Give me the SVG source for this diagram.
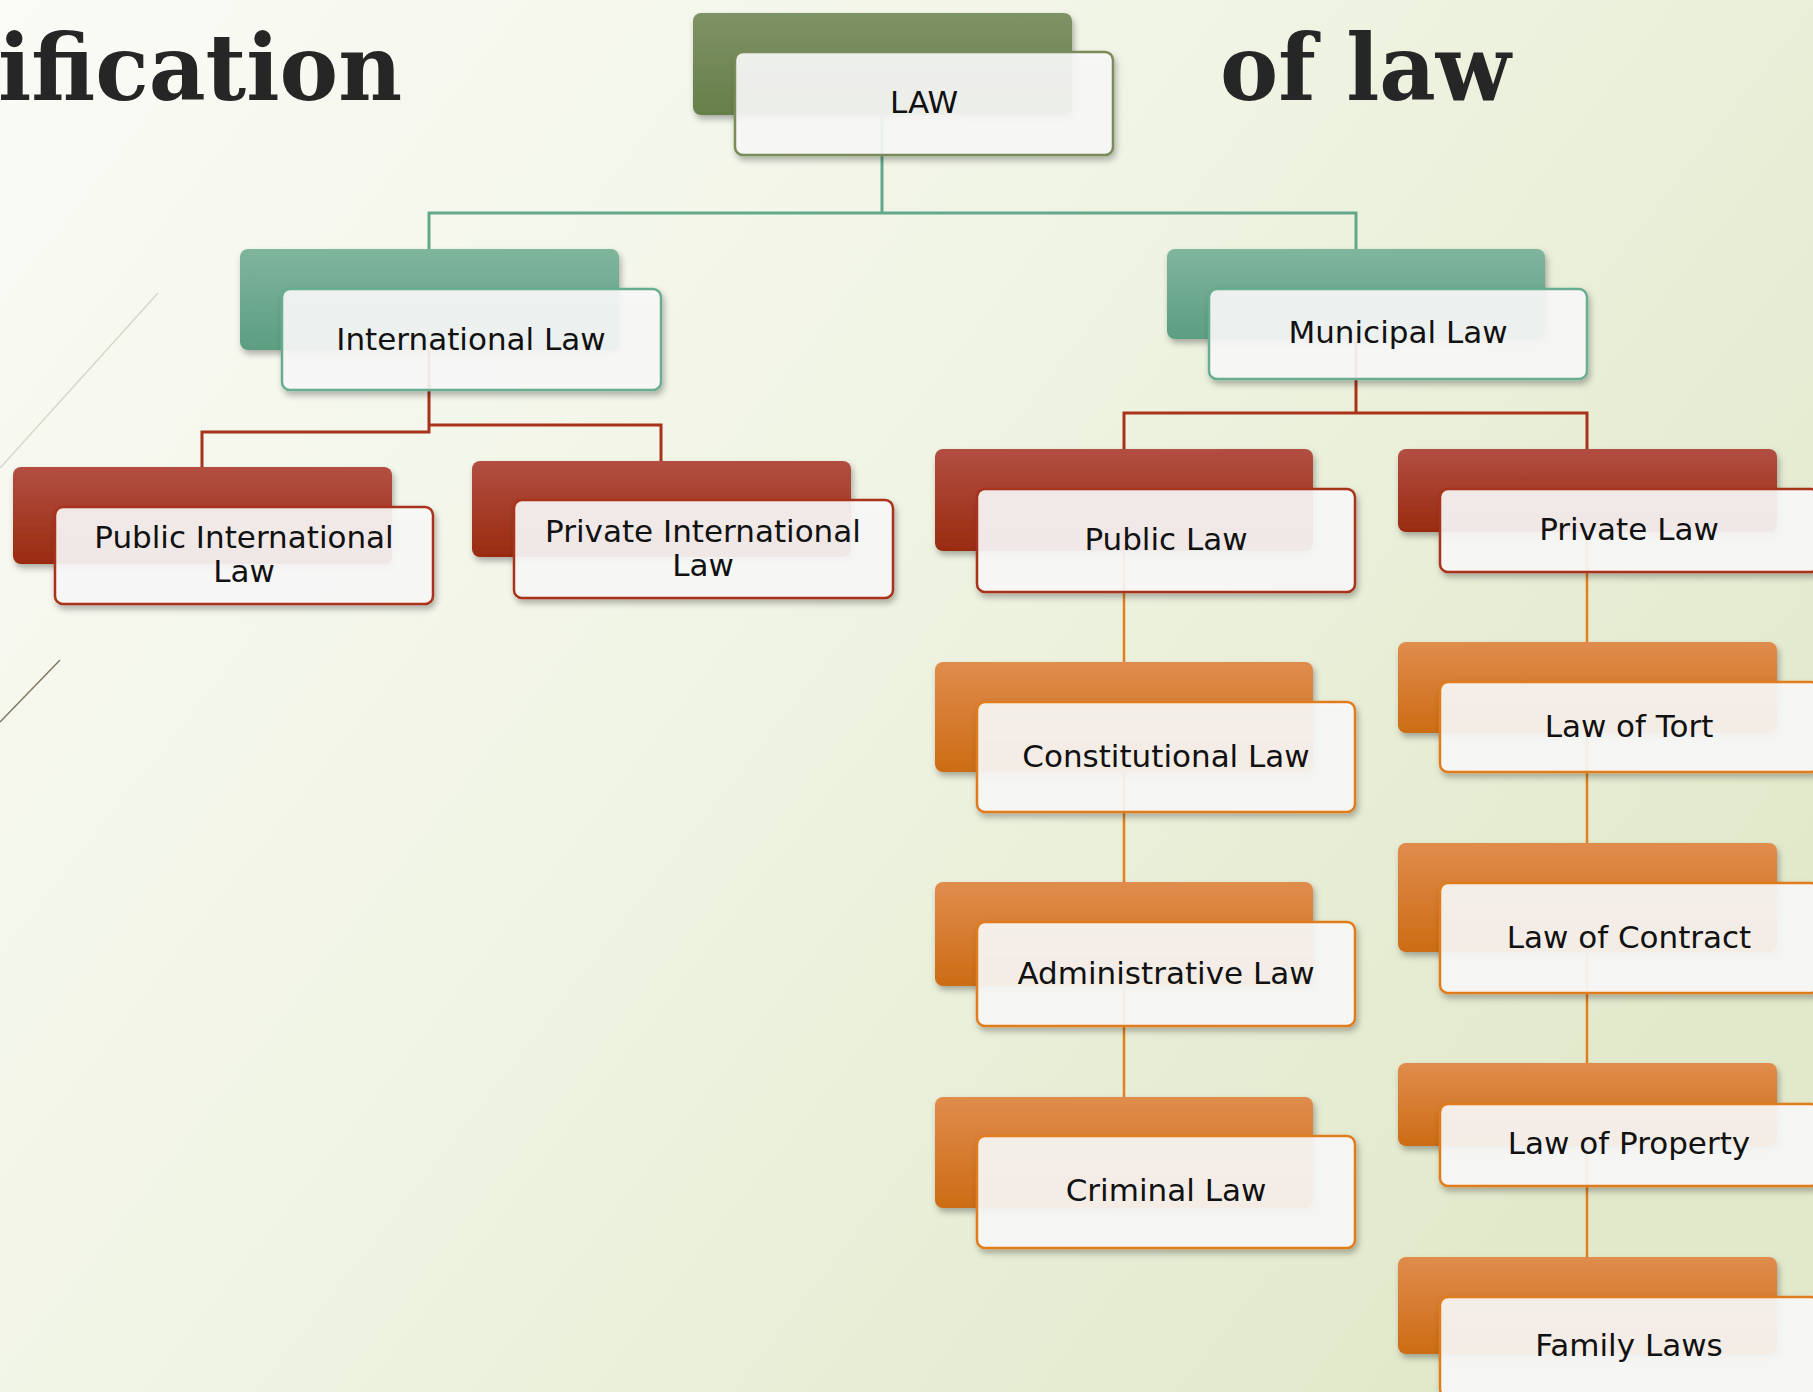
<svg xmlns="http://www.w3.org/2000/svg" width="1813" height="1392" viewBox="0 0 1813 1392">
<defs>
<linearGradient id="bg" x1="0" y1="0" x2="1" y2="0.6">
<stop offset="0" stop-color="#fafbf6"/>
<stop offset="0.5" stop-color="#f0f4e4"/>
<stop offset="1" stop-color="#e2e9cb"/>
</linearGradient>
<linearGradient id="gOlive" x1="0" y1="0" x2="0" y2="1"><stop offset="0" stop-color="#7f9265"/><stop offset="1" stop-color="#667f49"/></linearGradient>
<linearGradient id="gTeal" x1="0" y1="0" x2="0" y2="1"><stop offset="0" stop-color="#7fb59d"/><stop offset="1" stop-color="#5c9e82"/></linearGradient>
<linearGradient id="gRed" x1="0" y1="0" x2="0" y2="1"><stop offset="0" stop-color="#b24f42"/><stop offset="1" stop-color="#9a2b10"/></linearGradient>
<linearGradient id="gOrange" x1="0" y1="0" x2="0" y2="1"><stop offset="0" stop-color="#e08c4d"/><stop offset="1" stop-color="#cc6c14"/></linearGradient>
<filter id="sh" x="-10%" y="-10%" width="125%" height="135%">
<feDropShadow dx="2" dy="4" stdDeviation="3" flood-color="#000" flood-opacity="0.3"/>
</filter>
</defs>
<style>
.title{font-family:"DejaVu Serif","Liberation Serif",serif;font-weight:bold;font-size:92px;fill:#262626}
.bk{filter:url(#sh)}
.olive .bk{fill:url(#gOlive)}
.teal .bk{fill:url(#gTeal)}
.red .bk{fill:url(#gRed)}
.orange .bk{fill:url(#gOrange)}
.fr{fill:#fafaf9;fill-opacity:0.9;stroke-width:2.5;filter:url(#sh)}
.olive .fr{stroke:#788b58}
.teal .fr{stroke:#69ad91}
.red .fr{stroke:#a8321a}
.orange .fr{stroke:#e07b1c}
.lbl{font-family:"DejaVu Sans","Liberation Sans",sans-serif;font-size:31px;fill:#111;text-anchor:middle}
.c{fill:none;stroke-width:3}
.cTeal{stroke:#62a98b}
.cRed{stroke:#a8331a}
.cOrange{stroke:#e0801e;stroke-width:2.5}
</style>
<rect x="0" y="0" width="1813" height="1392" fill="url(#bg)"/>
<line x1="158" y1="293" x2="0" y2="468" stroke="#d6d7cb" stroke-width="1.5"/>
<line x1="60" y1="660" x2="0" y2="722" stroke="#7d7763" stroke-width="1.5"/>
<text class="title" x="-2" y="100" textLength="404" lengthAdjust="spacingAndGlyphs">ification</text>
<text class="title" x="1220" y="100" textLength="291" lengthAdjust="spacingAndGlyphs">of law</text>

<g id="connectors">
<path class="c cTeal" d="M882 115 V213 M429 249 V213 H1356 V249"/>
<path class="c cRed" d="M429 350 V432 H202 V467 M429 425 H661 V461"/>
<path class="c cRed" d="M1356 339 V413 H1124 V449 M1356 413 H1587 V449"/>
<path class="c cOrange" d="M1124 551 V1097"/>
<path class="c cOrange" d="M1587 532 V1257"/>
</g>

<g id="n-law" class="olive">
<rect class="bk" x="693" y="13" width="379" height="102" rx="8"/>
<rect class="fr" x="735" y="52" width="378" height="103" rx="8"/>
<text class="lbl" x="924" y="113">LAW</text>
</g>
<g id="n-international" class="teal">
<rect class="bk" x="240" y="249" width="379" height="101" rx="8"/>
<rect class="fr" x="282" y="289" width="379" height="101" rx="8"/>
<text class="lbl" x="471" y="350">International Law</text>
</g>
<g id="n-municipal" class="teal">
<rect class="bk" x="1167" y="249" width="378" height="90" rx="8"/>
<rect class="fr" x="1209" y="289" width="378" height="90" rx="8"/>
<text class="lbl" x="1398" y="343">Municipal Law</text>
</g>
<g id="n-public-intl" class="red">
<rect class="bk" x="13" y="467" width="379" height="97" rx="8"/>
<rect class="fr" x="55" y="507" width="378" height="97" rx="8"/>
<text class="lbl" x="244" y="548">Public International</text>
<text class="lbl" x="244" y="582">Law</text>
</g>
<g id="n-private-intl" class="red">
<rect class="bk" x="472" y="461" width="379" height="96" rx="8"/>
<rect class="fr" x="514" y="500" width="379" height="98" rx="8"/>
<text class="lbl" x="703" y="542">Private International</text>
<text class="lbl" x="703" y="576">Law</text>
</g>
<g id="n-public" class="red">
<rect class="bk" x="935" y="449" width="378" height="102" rx="8"/>
<rect class="fr" x="977" y="489" width="378" height="103" rx="8"/>
<text class="lbl" x="1166" y="550">Public Law</text>
</g>
<g id="n-private" class="red">
<rect class="bk" x="1398" y="449" width="379" height="83" rx="8"/>
<rect class="fr" x="1440" y="489" width="379" height="83" rx="8"/>
<text class="lbl" x="1629" y="540">Private Law</text>
</g>
<g id="n-constitutional" class="orange">
<rect class="bk" x="935" y="662" width="378" height="110" rx="8"/>
<rect class="fr" x="977" y="702" width="378" height="110" rx="8"/>
<text class="lbl" x="1166" y="767">Constitutional Law</text>
</g>
<g id="n-administrative" class="orange">
<rect class="bk" x="935" y="882" width="378" height="104" rx="8"/>
<rect class="fr" x="977" y="922" width="378" height="104" rx="8"/>
<text class="lbl" x="1166" y="984">Administrative Law</text>
</g>
<g id="n-criminal" class="orange">
<rect class="bk" x="935" y="1097" width="378" height="111" rx="8"/>
<rect class="fr" x="977" y="1136" width="378" height="112" rx="8"/>
<text class="lbl" x="1166" y="1201">Criminal Law</text>
</g>
<g id="n-tort" class="orange">
<rect class="bk" x="1398" y="642" width="379" height="91" rx="8"/>
<rect class="fr" x="1440" y="682" width="379" height="90" rx="8"/>
<text class="lbl" x="1629" y="737">Law of Tort</text>
</g>
<g id="n-contract" class="orange">
<rect class="bk" x="1398" y="843" width="379" height="109" rx="8"/>
<rect class="fr" x="1440" y="883" width="379" height="110" rx="8"/>
<text class="lbl" x="1629" y="948">Law of Contract</text>
</g>
<g id="n-property" class="orange">
<rect class="bk" x="1398" y="1063" width="379" height="83" rx="8"/>
<rect class="fr" x="1440" y="1104" width="379" height="82" rx="8"/>
<text class="lbl" x="1629" y="1154">Law of Property</text>
</g>
<g id="n-family" class="orange">
<rect class="bk" x="1398" y="1257" width="379" height="97" rx="8"/>
<rect class="fr" x="1440" y="1297" width="379" height="100" rx="8"/>
<text class="lbl" x="1629" y="1356">Family Laws</text>
</g>
</svg>
